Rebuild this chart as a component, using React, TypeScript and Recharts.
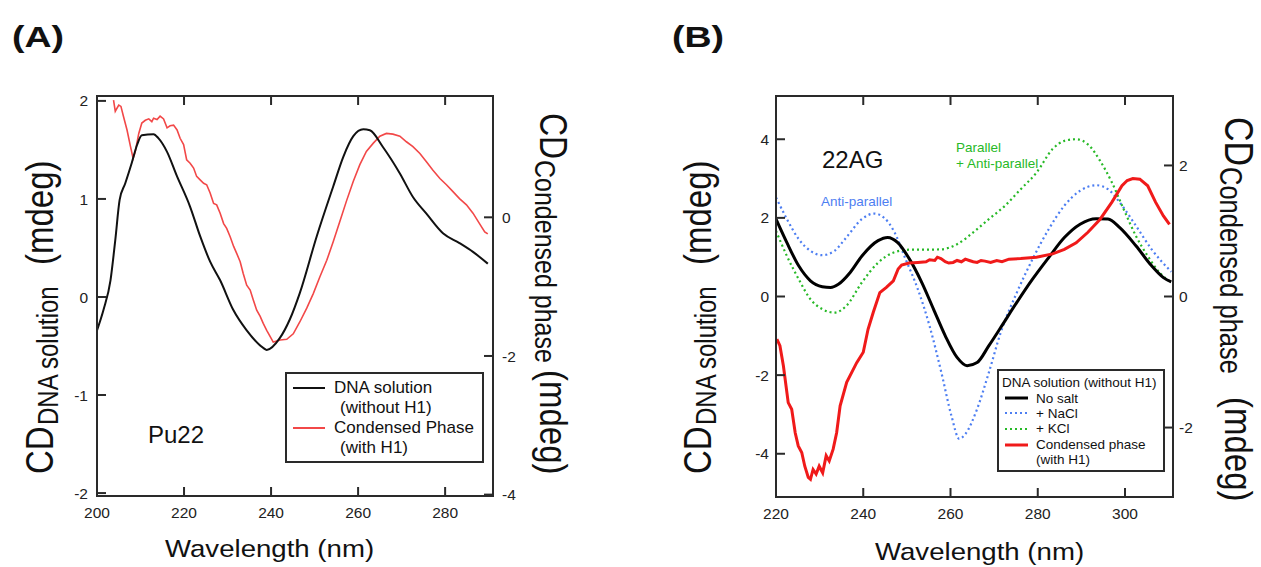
import { LineChart, Line, XAxis, YAxis } from "recharts";

// (A) Pu22
const pu22SolWl = [200, 201.5, 203.1, 204.2, 205.2, 206.5, 208.0, 209.2, 210.3, 213.0, 214.1, 216.1, 218.3, 221.4, 223.7, 226.0, 228.3, 231.3, 234.4, 238.2, 239.0, 242.0, 244.3, 246.6, 250.5, 254.3, 256.6, 258.9, 261.2, 262.7, 265.7, 269.6, 272.6, 275.7, 279.5, 283.3, 286.4, 289.8];
const pu22SolCd = [-0.34, -0.13, 0.17, 0.58, 0.99, 1.16, 1.37, 1.55, 1.65, 1.66, 1.62, 1.48, 1.24, 0.92, 0.62, 0.36, 0.17, -0.13, -0.34, -0.52, -0.54, -0.42, -0.23, 0.04, 0.62, 1.13, 1.43, 1.64, 1.71, 1.70, 1.53, 1.26, 1.02, 0.85, 0.65, 0.55, 0.46, 0.34];

const pu22CondWl = [203.8, 204.2, 205.0, 205.5, 206.1, 206.9, 207.7, 208.3, 208.8, 209.6, 210.3, 211.1, 211.9, 212.6, 213.0, 213.8, 214.5, 215.3, 216.1, 216.8, 217.6, 218.4, 219.1, 219.9, 220.6, 221.4, 222.2, 222.9, 223.7, 224.5, 225.2, 226.0, 226.8, 227.5, 228.3, 229.1, 229.8, 230.6, 231.4, 232.1, 232.9, 233.6, 234.4, 235.2, 235.9, 236.7, 237.5, 238.2, 239.0, 239.8, 240.5, 242.1, 243.6, 245.1, 246.6, 248.2, 249.7, 251.2, 252.8, 254.3, 255.8, 257.3, 258.9, 260.4, 261.9, 263.5, 265.0, 266.5, 268.0, 269.6, 271.1, 272.6, 274.2, 275.7, 277.2, 278.8, 280.3, 281.8, 283.3, 284.9, 286.4, 287.9, 289.1, 289.8];
const pu22CondCd = [1.69, 1.53, 1.62, 1.60, 1.45, 1.26, 1.02, 0.85, 0.95, 1.21, 1.36, 1.40, 1.42, 1.38, 1.43, 1.41, 1.46, 1.42, 1.29, 1.32, 1.33, 1.26, 1.14, 1.05, 0.83, 0.78, 0.71, 0.59, 0.54, 0.49, 0.47, 0.35, 0.20, 0.18, 0.06, -0.09, -0.16, -0.28, -0.42, -0.52, -0.64, -0.81, -0.98, -1.05, -1.19, -1.34, -1.43, -1.53, -1.63, -1.72, -1.80, -1.77, -1.76, -1.68, -1.51, -1.31, -1.10, -0.86, -0.62, -0.35, -0.06, 0.23, 0.52, 0.76, 0.95, 1.07, 1.17, 1.21, 1.20, 1.17, 1.09, 1.02, 0.92, 0.80, 0.68, 0.56, 0.47, 0.37, 0.27, 0.18, 0.06, -0.09, -0.21, -0.24];

// (B) 22AG
const agNoSaltWl = [220, 222.5, 225.2, 227.9, 230.6, 232.5, 234.3, 237.0, 239.7, 243.4, 245.6, 247.9, 250.6, 253.4, 256.1, 258.8, 261.5, 263.8, 266.1, 268.8, 271.5, 275.2, 278.8, 282.5, 286.1, 289.7, 293.4, 296.1, 298.8, 302.5, 306.1, 308.8, 310.6];
const agNoSaltCd = [1.97, 1.37, 0.78, 0.40, 0.25, 0.23, 0.31, 0.61, 1.03, 1.42, 1.50, 1.37, 0.95, 0.36, -0.32, -1.00, -1.55, -1.76, -1.68, -1.25, -0.79, -0.15, 0.44, 0.99, 1.50, 1.84, 1.98, 1.97, 1.75, 1.29, 0.78, 0.48, 0.37];

const agNaclWl = [220, 222.5, 225.2, 227.9, 230.6, 233.4, 236.1, 239.7, 242.5, 244.7, 247.0, 249.7, 252.5, 255.2, 257.9, 260.2, 262.0, 263.4, 266.1, 268.8, 271.5, 275.2, 278.8, 282.5, 286.1, 289.7, 293.4, 296.1, 298.8, 302.5, 306.1, 310.6];
const agNaclCd = [2.52, 1.97, 1.46, 1.16, 1.05, 1.16, 1.50, 1.97, 2.11, 2.01, 1.67, 0.95, 0.19, -0.75, -1.93, -3.03, -3.62, -3.50, -2.86, -1.93, -0.92, 0.10, 0.95, 1.71, 2.31, 2.69, 2.83, 2.73, 2.39, 1.80, 1.20, 0.63];

const agKclWl = [220, 222.5, 225.2, 227.9, 230.6, 233.4, 236.1, 239.7, 243.4, 247.0, 250.6, 254.3, 257.9, 261.5, 265.2, 268.8, 272.5, 276.1, 279.7, 283.4, 286.1, 288.8, 291.5, 294.3, 297.0, 299.7, 302.5, 305.2, 307.9, 310.6];
const agKclCd = [1.67, 1.03, 0.44, -0.07, -0.32, -0.41, -0.24, 0.36, 0.86, 1.12, 1.19, 1.19, 1.20, 1.33, 1.63, 1.97, 2.31, 2.73, 3.15, 3.75, 3.96, 4.00, 3.87, 3.45, 2.90, 2.22, 1.54, 1.03, 0.61, 0.36];

const agCondWl = [220.2, 220.9, 221.7, 222.8, 223.6, 224.4, 225.1, 225.9, 226.6, 227.4, 227.9, 228.5, 229.2, 229.9, 230.7, 231.5, 232.2, 233.1, 233.9, 234.7, 236.2, 238.5, 240.0, 241.1, 242.3, 243.8, 245.3, 246.9, 248.0, 248.8, 250.5, 252.5, 254.4, 255.2, 256.4, 257.0, 257.8, 258.8, 259.6, 260.6, 261.5, 262.5, 263.4, 264.3, 265.2, 266.1, 267.0, 267.9, 269.2, 270.6, 271.8, 273.4, 276.1, 279.7, 283.4, 286.1, 288.8, 291.5, 294.3, 297.0, 299.3, 300.5, 301.8, 303.4, 305.2, 307.0, 308.8, 310.2];
const agCondCd = [-0.65, -0.75, -1.06, -1.62, -1.72, -2.08, -2.28, -2.38, -2.59, -2.76, -2.79, -2.64, -2.71, -2.59, -2.69, -2.43, -2.51, -2.33, -2.08, -1.67, -1.31, -1.01, -0.85, -0.50, -0.24, 0.06, 0.14, 0.24, 0.42, 0.48, 0.51, 0.52, 0.53, 0.56, 0.55, 0.60, 0.58, 0.53, 0.51, 0.52, 0.55, 0.53, 0.57, 0.55, 0.53, 0.52, 0.55, 0.54, 0.52, 0.55, 0.53, 0.57, 0.58, 0.60, 0.65, 0.72, 0.82, 0.98, 1.18, 1.44, 1.69, 1.77, 1.80, 1.79, 1.69, 1.44, 1.23, 1.10];

const ticksA = { x: [200, 220, 240, 260, 280], left: [-2, -1, 0, 1, 2], right: [-4, -2, 0] };
const ticksB = { x: [220, 240, 260, 280, 300], left: [-4, -2, 0, 2, 4], right: [-2, 0, 2] };

const zip = (xs: number[], ys: number[]) => xs.map((x, i) => ({ x, y: ys[i] }));

const FONT = "'Liberation Sans', Arial, Helvetica, sans-serif";
const AXIS = "#2a2a2a";
const AXIS_W = 2;
const TICK_LEN = 9;
const RED_A = "#f24848";
const RED_B = "#f01a1a";
const BLUE = "#4d7ef2";
const GREEN = "#27b927";

const labelProps = { fill: "#222", fontSize: 15.5, fontFamily: FONT };

// inward ticks: the renderer gets the axis-line position because tickSize/tickMargin are 0
const leftTick = (gap: number) => (p: any) => (
  <g>
    <path d={`M${p.x},${p.y}h${TICK_LEN}`} stroke={AXIS} strokeWidth={AXIS_W} fill="none" />
    <text x={p.x - gap} y={p.y} dy="0.36em" textAnchor="end" {...labelProps}>{p.payload.value}</text>
  </g>
);
const rightTick = (gap: number) => (p: any) => (
  <g>
    <path d={`M${p.x},${p.y}h${-TICK_LEN}`} stroke={AXIS} strokeWidth={AXIS_W} fill="none" />
    <text x={p.x + gap} y={p.y} dy="0.36em" textAnchor="start" {...labelProps}>{p.payload.value}</text>
  </g>
);
const bottomTick = (plotHeight: number) => (p: any) => (
  <g>
    <path d={`M${p.x},${p.y}v${-TICK_LEN}M${p.x},${p.y - plotHeight}v${TICK_LEN}`} stroke={AXIS} strokeWidth={AXIS_W} fill="none" />
    <text x={p.x} y={p.y + 22} textAnchor="middle" {...labelProps}>{p.payload.value}</text>
  </g>
);

function CdLabel({ x, y, dir, sub, cdSize, subAt, subSize, unitAt }: {
  x: number; y: number; dir: number; sub: string; cdSize: number; subAt: number; subSize: number; unitAt: number;
}) {
  return (
    <g transform={`translate(${x},${y}) rotate(${dir * 90}) scale(1,1.2)`} fontFamily={FONT} fill="#111">
      <text x={0} y={0} fontSize={cdSize}>CD</text>
      <text x={subAt} y={4} fontSize={subSize}>{sub}</text>
      <text x={unitAt} y={0} fontSize={33}>(mdeg)</text>
    </g>
  );
}

function PanelA() {
  return (
    <LineChart width={560} height={567} margin={{ top: 96, right: 37, bottom: 41, left: 67 }}>
      <XAxis xAxisId="b" type="number" dataKey="x" domain={[200, 291]} ticks={ticksA.x} allowDataOverflow
        height={30} stroke={AXIS} strokeWidth={AXIS_W} tickLine={false} tickSize={0} tickMargin={0} tick={bottomTick(400)} />
      <YAxis yAxisId="l" type="number" domain={[-2.03, 2.05]} ticks={ticksA.left} allowDataOverflow
        width={30} stroke={AXIS} strokeWidth={AXIS_W} tickLine={false} tickSize={0} tickMargin={0} tick={leftTick(9)} />
      <YAxis yAxisId="r" orientation="right" type="number" domain={[-4.02, 1.75]} ticks={ticksA.right} allowDataOverflow
        width={30} stroke={AXIS} strokeWidth={AXIS_W} tickLine={false} tickSize={0} tickMargin={0} tick={rightTick(9)} />
      <Line xAxisId="b" yAxisId="r" data={zip(pu22CondWl, pu22CondCd)} dataKey="y" type="linear"
        stroke={RED_A} strokeWidth={1.6} dot={false} isAnimationActive={false} />
      <Line xAxisId="b" yAxisId="l" data={zip(pu22SolWl, pu22SolCd)} dataKey="y" type="monotone"
        stroke="#111" strokeWidth={2} dot={false} isAnimationActive={false} />
    </LineChart>
  );
}

function PanelB() {
  return (
    <LineChart width={560} height={567} margin={{ top: 96, right: 37, bottom: 40, left: 66 }}>
      <XAxis xAxisId="b" type="number" dataKey="x" domain={[220, 311]} ticks={ticksB.x} allowDataOverflow
        height={30} stroke={AXIS} strokeWidth={AXIS_W} tickLine={false} tickSize={0} tickMargin={0} tick={bottomTick(401)} />
      <YAxis yAxisId="l" type="number" domain={[-5.1, 5.1]} ticks={ticksB.left} allowDataOverflow
        width={30} stroke={AXIS} strokeWidth={AXIS_W} tickLine={false} tickSize={0} tickMargin={0} tick={leftTick(7)} />
      <YAxis yAxisId="r" orientation="right" type="number" domain={[-3.06, 3.06]} ticks={ticksB.right} allowDataOverflow
        width={30} stroke={AXIS} strokeWidth={AXIS_W} tickLine={false} tickSize={0} tickMargin={0} tick={rightTick(6)} />
      <Line xAxisId="b" yAxisId="l" data={zip(agNaclWl, agNaclCd)} dataKey="y" type="monotone"
        stroke={BLUE} strokeWidth={2.2} strokeDasharray="2 3" dot={false} isAnimationActive={false} />
      <Line xAxisId="b" yAxisId="l" data={zip(agKclWl, agKclCd)} dataKey="y" type="monotone"
        stroke={GREEN} strokeWidth={2.2} strokeDasharray="2 3" dot={false} isAnimationActive={false} />
      <Line xAxisId="b" yAxisId="l" data={zip(agNoSaltWl, agNoSaltCd)} dataKey="y" type="monotone"
        stroke="#000" strokeWidth={3} dot={false} isAnimationActive={false} />
      <Line xAxisId="b" yAxisId="r" data={zip(agCondWl, agCondCd)} dataKey="y" type="linear"
        stroke={RED_B} strokeWidth={3} dot={false} isAnimationActive={false} />
    </LineChart>
  );
}

export default function App() {
  return (
    <div style={{ position: "absolute", left: 0, top: 0, width: 1261, height: 567, background: "#fff", overflow: "hidden" }}>
      <div style={{ position: "absolute", left: 0, top: 0 }}>
        <PanelA />
      </div>
      <div style={{ position: "absolute", left: 680, top: 0 }}>
        <PanelB />
      </div>
      <svg width={1261} height={567} style={{ position: "absolute", left: 0, top: 0, pointerEvents: "none" }}>
        {/* plot frames (the axes draw the same edges underneath) */}
        <rect x={97} y={96} width={396} height={400} fill="none" stroke={AXIS} strokeWidth={AXIS_W} />
        <rect x={776} y={96} width={397} height={401} fill="none" stroke={AXIS} strokeWidth={AXIS_W} />

        <g fontFamily={FONT} fill="#111">
          <g transform="translate(12,47) scale(1.25,1)">
            <text fontSize={30} fontWeight="bold">(A)</text>
          </g>
          <g transform="translate(672,47) scale(1.25,1)">
            <text fontSize={30} fontWeight="bold">(B)</text>
          </g>
          <g transform="translate(165,557) scale(1.15,1)">
            <text fontSize={24}>Wavelength (nm)</text>
          </g>
          <g transform="translate(875,560) scale(1.15,1)">
            <text fontSize={24}>Wavelength (nm)</text>
          </g>
        </g>
        <CdLabel x={53} y={474} dir={-1} sub="DNA solution" cdSize={33} subAt={49} subSize={24} unitAt={209} />
        <CdLabel x={540} y={113} dir={1} sub="Condensed phase" cdSize={32} subAt={47} subSize={25} unitAt={257} />
        <CdLabel x={711} y={474} dir={-1} sub="DNA solution" cdSize={33} subAt={49} subSize={24} unitAt={209} />
        <CdLabel x={1225} y={117} dir={1} sub="Condensed phase" cdSize={34} subAt={50} subSize={25.5} unitAt={280} />

        {/* panel A annotations */}
        <text x={148} y={443} fontSize={24} fontFamily={FONT} fill="#111">Pu22</text>
        <rect x={286} y={373} width={197} height={89} fill="#fff" stroke={AXIS} strokeWidth={AXIS_W} />
        <line x1={293} x2={325} y1={388} y2={388} stroke="#111" strokeWidth={2} />
        <line x1={293} x2={325} y1={428} y2={428} stroke={RED_A} strokeWidth={2} />
        <g fontFamily={FONT} fontSize={17} fill="#111">
          <text x={334} y={393}>DNA solution</text>
          <text x={340} y={413}>(without H1)</text>
          <text x={334} y={433}>Condensed Phase</text>
          <text x={340} y={453}>(with H1)</text>
        </g>

        {/* panel B annotations */}
        <text x={822} y={168} fontSize={24} fontFamily={FONT} fill="#111">22AG</text>
        <g fontFamily={FONT} fontSize={13.5}>
          <text x={821} y={206} fill={BLUE}>Anti-parallel</text>
          <text x={956} y={152} fill={GREEN}>Parallel</text>
          <text x={956} y={168} fill={GREEN}>+ Anti-parallel</text>
        </g>
        <rect x={998} y={370} width={166} height={101} fill="#fff" stroke={AXIS} strokeWidth={AXIS_W} />
        <line x1={1005} x2={1028} y1={398} y2={398} stroke="#000" strokeWidth={3} />
        <line x1={1005} x2={1028} y1={413} y2={413} stroke={BLUE} strokeWidth={2.2} strokeDasharray="2 3" />
        <line x1={1005} x2={1028} y1={429} y2={429} stroke={GREEN} strokeWidth={2.2} strokeDasharray="2 3" />
        <line x1={1005} x2={1028} y1={445} y2={445} stroke={RED_B} strokeWidth={3} />
        <g fontFamily={FONT} fontSize={13.5} fill="#111">
          <text x={1002} y={387}>DNA solution (without H1)</text>
          <text x={1036} y={403}>No salt</text>
          <text x={1036} y={418}>+ NaCl</text>
          <text x={1036} y={433}>+ KCl</text>
          <text x={1036} y={449}>Condensed phase</text>
          <text x={1036} y={464}>(with H1)</text>
        </g>
      </svg>
    </div>
  );
}
